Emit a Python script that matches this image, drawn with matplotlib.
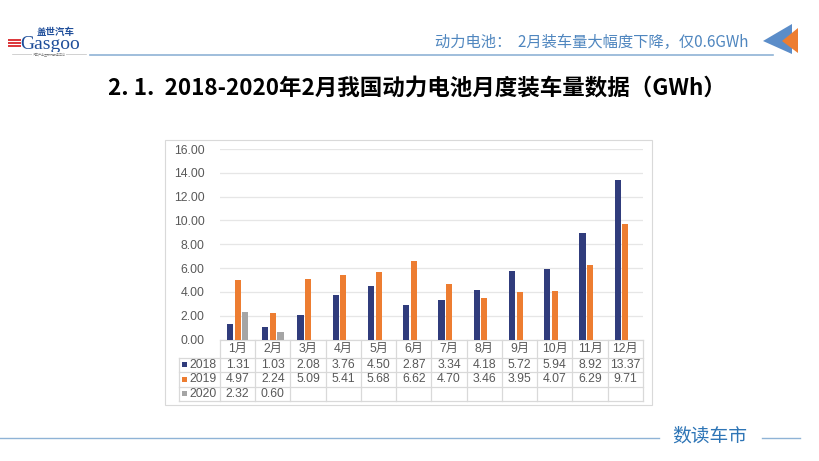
import matplotlib
matplotlib.use('Agg')
import matplotlib.pyplot as plt
import matplotlib.transforms as mtransforms
from matplotlib.patches import Polygon, Rectangle
import numpy as np

# ---------------- data ----------------
months = ['1月', '2月', '3月', '4月', '5月', '6月', '7月', '8月', '9月', '10月', '11月', '12月']
years = ['2018', '2019', '2020']
v2018 = [1.31, 1.03, 2.08, 3.76, 4.50, 2.87, 3.34, 4.18, 5.72, 5.94, 8.92, 13.37]
v2019 = [4.97, 2.24, 5.09, 5.41, 5.68, 6.62, 4.70, 3.46, 3.95, 4.07, 6.29, 9.71]
v2020 = [2.32, 0.60]
yticks = [0, 2, 4, 6, 8, 10, 12, 14, 16]
title = '2. 1.  2018-2020年2月我国动力电池月度装车量数据（GWh）'
header = '动力电池：  2月装车量大幅度下降，仅0.6GWh'
footer = '数读车市'

colors = ['#303C7C', '#ED7D31', '#A5A5A5']
series = [v2018, v2019, v2020]

plt.rcParams['font.family'] = ['Liberation Sans', 'Noto Sans CJK SC']
CJK = ['Noto Sans CJK SC', 'DejaVu Sans']
TXT = '#595959'
GRID = '#D9D9D9'

W, H = 820, 461
fig = plt.figure(figsize=(W / 100, H / 100), dpi=100)
fig.patch.set_facecolor('white')

# overlay in pixel coordinates
ov = fig.add_axes([0, 0, 1, 1])
ov.set_xlim(0, W)
ov.set_ylim(H, 0)
ov.axis('off')

# ---------------- header ----------------
# logo
ov.text(56, 31.5, '盖世汽车', fontsize=6.8, fontweight='bold', color='#1F4E9A',
        family=CJK, ha='center', va='center')
ov.text(50, 44.5, 'Gasgoo', fontsize=14, color='#1F4E9A', family=['Liberation Serif'],
        ha='center', va='center')
for yy in (40.5, 43.5, 46.5):
    ov.plot([8, 21], [yy, yy], color='#D9252A', lw=1.3, solid_capstyle='butt')
ov.plot([12, 86], [54.5, 54.5], color='#BFBFBF', lw=0.5)
ov.text(49, 54.5, '汽车产业互联网服务平台', fontsize=2.2, color='#7F7F7F', family=CJK,
        ha='center', va='center', bbox=dict(fc='white', ec='none', pad=0.5))

ov.text(749, 42, header, fontsize=11.0, color='#4F86BF', family=CJK,
        ha='right', va='center')
ov.plot([90, 773], [55.5, 55.5], color='#8FB3D6', lw=1.2)
ov.add_patch(Polygon([[763, 41], [792, 24], [792, 54]], closed=True,
                     fc='#5B8DC9', ec='none'))
ov.add_patch(Polygon([[782, 41], [798, 28], [798, 53]], closed=True,
                     fc='#ED7D31', ec='none'))

# title
ov.text(108, 88, title, fontsize=16.2, fontweight='bold', color='black',
        family=CJK, ha='left', va='center')

# ---------------- chart ----------------
ov.add_patch(Rectangle((165, 140), 487, 265, fc='white', ec='#D9D9D9', lw=0.8))

L, R, T, B = 220, 643, 149, 339.5
ax = fig.add_axes([L / W, 1 - B / H, (R - L) / W, (B - T) / H])
ax.set_facecolor('none')
ax.set_xlim(-0.5, 11.5)
ax.set_ylim(0, 16)

x = np.arange(len(months))
offs = [-0.215, 0.0, 0.215]
bw = 0.175
for s, vals in enumerate(series):
    ax.bar(x[:len(vals)] + offs[s], vals, width=bw, color=colors[s], zorder=3)

ax.set_yticks(yticks)
ax.set_yticklabels([f'{t:.2f}' for t in yticks], fontsize=8.8, color=TXT)
ax.tick_params(axis='y', length=0, pad=11)
ax.set_xticks([])
ax.grid(axis='y', color='#E6E6E6', lw=0.9, zorder=0)
for sp in ax.spines.values():
    sp.set_visible(False)

# ---------------- data table ----------------
tr = mtransforms.blended_transform_factory(ax.transData, ov.transData)
rows = [339.5, 357.5, 372, 386.5, 401]
leg_l = 179
ov.plot([L, R], [rows[0], rows[0]], color=GRID, lw=0.9)
for yy in rows[1:]:
    ov.plot([leg_l, R], [yy, yy], color=GRID, lw=0.9)
ov.plot([leg_l, leg_l], [rows[1], rows[-1]], color=GRID, lw=0.9)
for b in np.arange(len(months) + 1) - 0.5:
    ov.plot([b, b], [rows[0], rows[-1]], color=GRID, lw=0.9, transform=tr)

ymid = [(rows[i] + rows[i + 1]) / 2 for i in range(4)]
for i, m in enumerate(months):
    ov.text(x[i], ymid[0] + 0.5, m, fontsize=8.8, color=TXT, ha='center', va='center',
            transform=tr)
for s, vals in enumerate(series):
    yy = ymid[s + 1]
    ov.add_patch(Rectangle((182, yy - 2.5), 5, 5, fc=colors[s], ec='none'))
    ov.text(189, yy, years[s], fontsize=8.8, color=TXT, ha='left', va='center')
    for i, v in enumerate(vals):
        ov.text(x[i], yy, f'{v:.2f}', fontsize=8.8, color=TXT, ha='center',
                va='center', transform=tr)

# ---------------- footer ----------------
ov.plot([0, 659], [438, 438], color='#8FB3D6', lw=1.0)
ov.plot([762, 800], [438, 438], color='#8FB3D6', lw=1.0)
ov.text(710, 436, footer, fontsize=13.5, color='#2E75B6', family=CJK,
        ha='center', va='center')

fig.savefig('out.png', dpi=100, facecolor='white')
